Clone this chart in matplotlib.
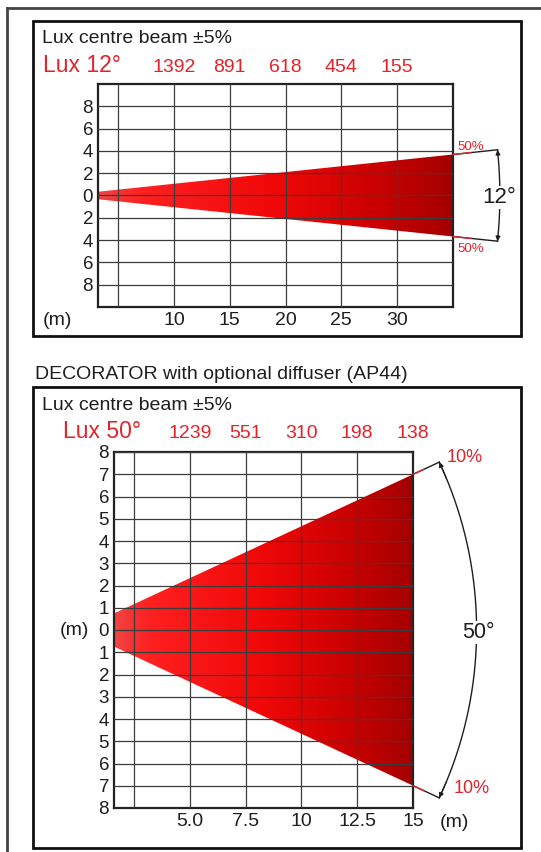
import numpy as np
import matplotlib
matplotlib.use('Agg')
import matplotlib.pyplot as plt
from matplotlib.patches import Polygon, Rectangle
from matplotlib.colors import LinearSegmentedColormap
from matplotlib.lines import Line2D
import matplotlib.transforms as mtransforms

plt.rcParams['font.family'] = ['Liberation Sans', 'DejaVu Sans']

# ---------------- data ----------------
top_title = "Lux centre beam \u00b15%"
top_lux_label = "Lux 12\u00b0"
top_distances = [10, 15, 20, 25, 30]
top_lux = [1392, 891, 618, 454, 155]
top_beam_angle = 12
top_max_distance = 35
top_edge_label = "50%"
top_angle_label = "12\u00b0"
top_xticks = [5, 10, 15, 20, 25, 30]
top_xticklabels = ['', '10', '15', '20', '25', '30']
top_yticks = [8, 6, 4, 2, 0, -2, -4, -6, -8]
top_yticklabels = ['8', '6', '4', '2', '0', '2', '4', '6', '8']

bottom_heading = "DECORATOR with optional diffuser (AP44)"
bottom_title = "Lux centre beam \u00b15%"
bottom_lux_label = "Lux 50\u00b0"
bottom_distances = [5.0, 7.5, 10, 12.5, 15]
bottom_lux = [1239, 551, 310, 198, 138]
bottom_beam_angle = 50
bottom_max_distance = 15
bottom_edge_label = "10%"
bottom_angle_label = "50\u00b0"
bottom_xticks = [2.5, 5.0, 7.5, 10, 12.5, 15]
bottom_xticklabels = ['', '5.0', '7.5', '10', '12.5', '15']
bottom_yticks = [8, 7, 6, 5, 4, 3, 2, 1, 0, -1, -2, -3, -4, -5, -6, -7, -8]
bottom_yticklabels = ['8', '7', '6', '5', '4', '3', '2', '1', '0', '1', '2', '3', '4', '5', '6', '7', '8']

# ---------------- style ----------------
W, H = 541, 852
RED = '#E3222A'
DARK = '#1E1E1E'
beam_cmap = LinearSegmentedColormap.from_list(
    'beam', [(0.0, '#F04444'), (0.12, '#FF2020'), (0.5, '#F00808'),
             (0.8, '#C80000'), (1.0, '#A40000')])

fig = plt.figure(figsize=(W / 100, H / 100), dpi=100)


def ax_rect(l, t, r, b):
    return [l / W, 1 - b / H, (r - l) / W, (b - t) / H]


def ftext(x, baseline, s, **kw):
    return fig.text(x / W, 1 - baseline / H, s, va='baseline', **kw)


# outer frame lines
fig.add_artist(Line2D([7 / W, 1], [1 - 8 / H, 1 - 8 / H], color='#444444', lw=2,
                      transform=fig.transFigure))
fig.add_artist(Line2D([7 / W, 7 / W], [1 - 8 / H, 0], color='#444444', lw=2,
                      transform=fig.transFigure))
# panel boxes
for (l, t, r, b) in [(33, 21, 521, 336), (33, 387, 521, 848)]:
    fig.add_artist(Rectangle((l / W, 1 - b / H), (r - l) / W, (b - t) / H, fill=False,
                             lw=2, ec='#111111', transform=fig.transFigure))


def setup_axes(ax, xlim, ylim, xticks, xlabels, yticks, ylabels):
    ax.set_xlim(*xlim)
    ax.set_ylim(*ylim)
    ax.set_xticks(xticks)
    ax.set_xticklabels(xlabels)
    ax.set_yticks(yticks)
    ax.set_yticklabels(ylabels)
    ax.tick_params(axis='x', length=0, labelsize=14, pad=3.6, colors=DARK)
    ax.tick_params(axis='y', length=0, labelsize=13.5, pad=3.6, colors=DARK)
    ax.grid(True, color='#3C3C3C', lw=0.9)
    ax.set_axisbelow(False)
    for sp in ax.spines.values():
        sp.set_linewidth(1.6)
        sp.set_color('#222222')


def draw_beam(ax, angle, dmax, x0):
    t = np.tan(np.radians(angle / 2))
    verts = [(x0, x0 * t), (dmax, dmax * t), (dmax, -dmax * t), (x0, -x0 * t)]
    poly = Polygon(verts, closed=True, facecolor='none', edgecolor='none', zorder=1)
    ax.add_patch(poly)
    grad = np.linspace(0, 1, 256).reshape(1, -1)
    im = ax.imshow(grad, cmap=beam_cmap, extent=[x0, dmax, -dmax * t, dmax * t],
                   aspect='auto', zorder=1, interpolation='bilinear')
    im.set_clip_path(poly)


def draw_bracket(ax, angle, dmax, radius, arrow_step):
    half = np.radians(angle / 2)
    th = np.linspace(-half, half, 300)
    ax.plot(radius * np.cos(th), radius * np.sin(th), color=DARK, lw=1.0,
            clip_on=False, zorder=5)
    for s in (1, -1):
        corner = np.array([dmax, s * dmax * np.tan(half)])
        end = np.array([radius * np.cos(half), s * radius * np.sin(half)])
        ax.plot([corner[0], end[0]], [corner[1], end[1]], color=DARK, lw=1.0,
                clip_on=False, zorder=5)
        mid = corner + 0.4 * (end - corner)
        ax.plot([corner[0], mid[0]], [corner[1], mid[1]], color=RED, lw=1.0,
                clip_on=False, zorder=6)
        th_in = s * (half - arrow_step)
        ax.annotate('', xy=(end[0], end[1]),
                    xytext=(radius * np.cos(th_in), radius * np.sin(th_in)),
                    arrowprops=dict(arrowstyle='-|>', color=DARK, lw=0.8,
                                    mutation_scale=7, shrinkA=0, shrinkB=0),
                    annotation_clip=False, zorder=6)


# ---------------- top panel ----------------
ax1 = fig.add_axes(ax_rect(98, 84, 453, 307))
draw_beam(ax1, top_beam_angle, top_max_distance, 3.2)
setup_axes(ax1, (3.2, 35.0), (-10, 10), top_xticks, top_xticklabels,
           top_yticks, top_yticklabels)
draw_bracket(ax1, top_beam_angle, top_max_distance, 39.2, np.radians(0.8))

ftext(42, 43, top_title, fontsize=14, color=DARK)
ftext(43, 72, top_lux_label, fontsize=16.5, color=RED)
tr1 = mtransforms.blended_transform_factory(ax1.transData, fig.transFigure)
for d, v in zip(top_distances, top_lux):
    fig.text(d, 1 - 72 / H, str(v), transform=tr1, ha='center', va='baseline',
             fontsize=14, color=RED)
ftext(457, 150, top_edge_label, fontsize=9.5, color=RED)
ftext(457, 252, top_edge_label, fontsize=9.5, color=RED)
ftext(499, 203, top_angle_label, fontsize=16, color=DARK, ha='center', zorder=10,
      bbox=dict(facecolor='white', edgecolor='none', pad=0.5))
ftext(43, 325, "(m)", fontsize=14, color=DARK)

# ---------------- bottom panel ----------------
ftext(35, 379, bottom_heading, fontsize=14, color=DARK)
ax2 = fig.add_axes(ax_rect(114, 452, 413, 808))
draw_beam(ax2, bottom_beam_angle, bottom_max_distance, 1.6)
setup_axes(ax2, (1.6, 15.0), (-8, 8), bottom_xticks, bottom_xticklabels,
           bottom_yticks, bottom_yticklabels)
draw_bracket(ax2, bottom_beam_angle, bottom_max_distance, 17.85, np.radians(2.5))

ftext(42, 410, bottom_title, fontsize=14, color=DARK)
ftext(63, 438, bottom_lux_label, fontsize=16.5, color=RED)
tr2 = mtransforms.blended_transform_factory(ax2.transData, fig.transFigure)
for d, v in zip(bottom_distances, bottom_lux):
    fig.text(d, 1 - 438 / H, str(v), transform=tr2, ha='center', va='baseline',
             fontsize=14, color=RED)
ftext(447, 462, bottom_edge_label, fontsize=13, color=RED)
ftext(454, 793, bottom_edge_label, fontsize=13, color=RED)
ftext(478, 638, bottom_angle_label, fontsize=15.5, color=DARK, ha='center', zorder=10,
      bbox=dict(facecolor='white', edgecolor='none', pad=0.5))
ftext(60, 635, "(m)", fontsize=14, color=DARK)
ftext(440, 827, "(m)", fontsize=14, color=DARK)

fig.savefig('out.png', dpi=100)
